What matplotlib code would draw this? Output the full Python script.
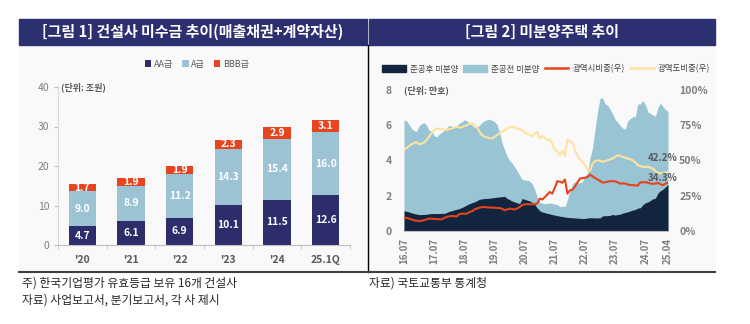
import numpy as np
import matplotlib.pyplot as plt
from matplotlib.patches import Rectangle, Patch
from matplotlib.lines import Line2D

plt.rcParams['font.family'] = ['Noto Sans CJK KR', 'DejaVu Sans']

# ---- [그림 1] 건설사 미수금 (단위: 조원)
periods = ["'20", "'21", "'22", "'23", "'24", '25.1Q']
aa_grade = [4.7, 6.1, 6.9, 10.1, 11.5, 12.6]
a_grade = [9.0, 8.9, 11.2, 14.3, 15.4, 16.0]
bbb_grade = [1.7, 1.9, 1.9, 2.3, 2.9, 3.1]

# ---- [그림 2] 미분양주택 (단위: 만호 / %), 월별 16.07 ~ 25.04
month_labels = ['16.07', '17.07', '18.07', '19.07', '20.07',
                '21.07', '22.07', '23.07', '24.07', '25.04']
month_label_pos = [0, 12, 24, 36, 48, 60, 72, 84, 96, 105]

# 전체 미분양 (준공전 + 준공후)
unsold_total = [
    6.29, 6.25, 6.05, 5.80, 5.70, 5.65, 5.95, 6.10, 6.15, 6.00, 5.70, 5.68,
    5.40, 5.35, 5.50, 5.60, 5.70, 5.85, 6.00, 5.95, 5.90, 6.00, 6.10, 6.20,
    6.30, 6.25, 6.14, 6.00, 5.88, 5.90, 6.00, 6.15, 6.26, 6.30, 6.33, 6.28,
    6.20, 6.05, 5.60, 5.00, 4.60, 4.25, 4.00, 3.85, 3.64, 3.40, 3.17, 2.92,
    2.89, 2.88, 2.83, 2.67, 2.36, 1.90, 1.65, 1.58, 1.55, 1.57, 1.59, 1.56,
    1.53, 1.50, 1.38, 1.41, 1.38, 1.77, 2.30, 2.65, 2.80, 2.72, 2.74, 2.79,
    3.13, 3.27, 4.16, 4.72, 5.80, 6.81, 7.54, 7.54, 7.21, 7.14, 6.89, 6.64,
    6.31, 6.18, 5.98, 5.83, 5.79, 6.25, 6.38, 6.49, 6.50, 7.20, 7.21, 7.40,
    7.18, 6.76, 6.68, 6.58, 6.51, 7.02, 7.26, 7.06, 6.89, 6.78]
# 준공후 미분양
unsold_completed = [
    1.14, 1.12, 1.08, 1.03, 0.99, 0.96, 0.93, 0.93, 0.94, 0.95, 0.97, 0.99,
    0.99, 0.99, 0.99, 1.00, 1.00, 1.05, 1.12, 1.15, 1.20, 1.23, 1.27, 1.33,
    1.40, 1.48, 1.55, 1.60, 1.65, 1.72, 1.80, 1.82, 1.84, 1.85, 1.86, 1.88,
    1.90, 1.92, 1.93, 1.95, 1.97, 1.85, 1.78, 1.70, 1.65, 1.60, 1.55, 1.84,
    1.80, 1.75, 1.70, 1.62, 1.50, 1.30, 1.15, 1.08, 1.04, 1.00, 0.97, 0.93,
    0.90, 0.87, 0.84, 0.82, 0.79, 0.77, 0.76, 0.75, 0.74, 0.73, 0.72, 0.71,
    0.71, 0.74, 0.75, 0.75, 0.74, 0.74, 0.75, 0.86, 0.87, 0.87, 0.89, 0.94,
    0.90, 0.94, 0.95, 1.02, 1.05, 1.09, 1.14, 1.19, 1.22, 1.30, 1.32, 1.49,
    1.60, 1.65, 1.73, 1.83, 1.86, 2.15, 2.29, 2.37, 2.51, 2.64]
# 광역시 비중 (%)
metro_share = [
    9.5, 9.2, 8.8, 8.2, 7.6, 7.3, 7.1, 7.3, 7.6, 8.2, 8.8, 8.7,
    8.6, 8.5, 8.3, 8.3, 9.2, 10.0, 10.4, 10.7, 10.5, 10.4, 12.0, 12.3,
    12.2, 12.3, 13.4, 14.0, 15.2, 15.9, 16.6, 17.0, 17.0, 16.8, 16.7, 16.6,
    16.5, 16.4, 16.2, 15.9, 14.7, 15.3, 15.9, 15.6, 15.2, 16.0, 17.0, 18.4,
    18.9, 19.0, 19.0, 19.0, 19.2, 19.4, 23.0, 22.3, 24.0, 25.8, 27.7, 26.5,
    30.8, 35.3, 35.0, 34.2, 36.5, 26.5, 28.9, 29.2, 31.5, 34.5, 37.2, 37.5,
    37.8, 38.2, 40.0, 38.8, 37.6, 36.5, 35.5, 34.3, 34.5, 35.0, 35.3, 35.3,
    35.3, 34.5, 33.6, 33.8, 33.6, 33.0, 32.6, 32.5, 32.4, 32.2, 34.6, 34.5,
    34.6, 34.3, 33.6, 33.5, 33.6, 34.1, 33.2, 32.5, 33.6, 34.3]
# 광역도 비중 (%)
province_share = [
    57.3, 59.0, 60.2, 61.5, 62.5, 63.0, 61.5, 62.0, 62.8, 64.5, 67.0, 69.5,
    71.5, 72.7, 72.5, 72.2, 71.8, 71.6, 72.2, 72.7, 73.3, 73.9, 73.3, 73.5,
    74.5, 75.1, 76.0, 76.3, 75.0, 73.5, 70.5, 68.0, 67.0, 66.4, 65.8, 65.6,
    66.8, 68.0, 69.2, 70.4, 71.6, 72.7, 73.3, 73.9, 73.3, 72.7, 72.2, 71.6,
    70.0, 68.7, 68.0, 67.3, 69.0, 70.4, 65.6, 67.3, 66.0, 64.5, 64.9, 62.0,
    58.0, 56.2, 53.8, 56.9, 53.1, 64.9, 63.5, 62.6, 57.3, 53.5, 50.5, 49.1,
    46.7, 43.5, 42.7, 47.9, 49.5, 50.2, 49.8, 49.1, 49.6, 50.2, 50.8, 51.4,
    52.6, 53.8, 53.2, 52.6, 52.0, 51.4, 50.8, 50.2, 48.5, 46.7, 46.0, 45.5,
    45.5, 45.5, 44.9, 44.3, 42.5, 41.2, 41.0, 40.8, 41.5, 42.2]

NAVY = '#2d3070'
C_AA, C_A, C_BBB = '#2e2d6c', '#9cc3d3', '#e8441f'
C_DARK, C_LIGHT = '#13243e', '#99c4d3'
C_RED, C_YEL = '#e4431c', '#fde3a2'
GRAY = '#7f7f7f'

W, H = 750, 324
fig = plt.figure(figsize=(W / 100, H / 100), dpi=100)

def fx(px):
    return px / W

def fy(py):
    return 1 - py / H

# 패널 배경과 제목 띠
fig.add_artist(Rectangle((fx(19), fy(272)), fx(715) - fx(19), fy(45) - fy(272),
                         transform=fig.transFigure, color='#f9f9f9', zorder=-2))
for x0, x1, title in [(19, 367, '[그림 1] 건설사 미수금 추이(매출채권+계약자산)'),
                      (369, 715, '[그림 2] 미분양주택 추이')]:
    fig.add_artist(Rectangle((fx(x0), fy(45)), fx(x1) - fx(x0), fy(19) - fy(45),
                             transform=fig.transFigure, color=NAVY, zorder=-1))
    fig.text(fx((x0 + x1) / 2), fy(32), title, color='white', fontsize=10.8,
             fontweight='bold', ha='center', va='center')
fig.add_artist(Line2D([fx(368), fx(368)], [fy(45), fy(272)], color='black', lw=1))
fig.add_artist(Line2D([fx(19), fx(715)], [fy(272), fy(272)], color='#404040', lw=1.5))

# ---- 왼쪽: 누적 막대
ax1 = fig.add_axes([fx(58), fy(245), (350 - 58) / W, (245 - 87) / H])
ax1.set_facecolor('none')
x = np.arange(len(periods))
bw = 0.56
b1 = ax1.bar(x, aa_grade, bw, color=C_AA, label='AA급')
b2 = ax1.bar(x, a_grade, bw, bottom=aa_grade, color=C_A, label='A급')
b3 = ax1.bar(x, bbb_grade, bw, bottom=np.add(aa_grade, a_grade), color=C_BBB, label='BBB급')
for cont, vals in [(b1, aa_grade), (b2, a_grade), (b3, bbb_grade)]:
    ax1.bar_label(cont, labels=[f'{v:.1f}' for v in vals], label_type='center',
                  color='white', fontsize=7.5, fontweight='bold')

ax1.set_xlim(-0.5, len(periods) - 0.5)
ax1.set_ylim(0, 40)
ax1.set_yticks([0, 10, 20, 30, 40])
ax1.set_xticks(x)
ax1.set_xticklabels(periods, fontweight='bold', color='#595959', fontsize=7.5)
ax1.set_xticks(np.arange(-0.5, len(periods)), minor=True)
ax1.tick_params(axis='x', which='major', length=0, pad=7)
ax1.tick_params(axis='x', which='minor', length=3, color='#bfbfbf')
ax1.tick_params(axis='y', length=3, color='#bfbfbf', labelcolor=GRAY, labelsize=7.5, pad=3)
for s in ['top', 'right']:
    ax1.spines[s].set_visible(False)
ax1.spines['left'].set_color('#d9d9d9')
ax1.spines['bottom'].set_color('#bfbfbf')
ax1.text(0.01, 1.0, '(단위: 조원)', transform=ax1.transAxes, fontsize=6.5,
         fontweight='bold', color='#595959', va='center')
ax1.legend(loc='center', bbox_to_anchor=(fx(197), fy(64)), bbox_transform=fig.transFigure,
           ncol=3, frameon=False, fontsize=6.5, handlelength=0.7, handleheight=0.7,
           handletextpad=0.3, columnspacing=1.0, labelcolor='#595959')

# ---- 오른쪽: 미분양 면적 + 비중 선
ax2 = fig.add_axes([fx(404), fy(231), (668 - 404) / W, (231 - 90) / H])
ax2.set_facecolor('none')
m = np.arange(len(unsold_total))
ax2.fill_between(m, 0, unsold_total, color=C_LIGHT, lw=0)
ax2.fill_between(m, 0, unsold_completed, color=C_DARK, lw=0)
ax2.set_xlim(0, len(m) - 1)
ax2.set_ylim(0, 8)
ax2.set_yticks([0, 2, 4, 6, 8])
ax2.set_xticks(month_label_pos)
ax2.set_xticklabels(month_labels, rotation=90)
ax2.tick_params(axis='x', length=0, pad=5, labelsize=7)
ax2.tick_params(axis='y', length=0, pad=9, labelsize=7.5)
for lab in ax2.get_xticklabels() + ax2.get_yticklabels():
    lab.set_fontweight('bold')
    lab.set_color(GRAY)
for s in ['top', 'right', 'left']:
    ax2.spines[s].set_visible(False)
ax2.spines['bottom'].set_color('#bfbfbf')
ax2.text(0.0, 1.0, '(단위: 만호)', transform=ax2.transAxes, fontsize=6.5,
         fontweight='bold', color='#595959', va='center', ha='left')

ax3 = ax2.twinx()
ax3.plot(m, metro_share, color=C_RED, lw=1.5)
ax3.plot(m, province_share, color=C_YEL, lw=1.5)
ax3.set_ylim(0, 100)
ax3.set_yticks([0, 25, 50, 75, 100])
ax3.set_yticklabels(['0%', '25%', '50%', '75%', '100%'])
ax3.tick_params(axis='y', length=0, pad=8, labelsize=7.5)
for lab in ax3.get_yticklabels():
    lab.set_fontweight('bold')
    lab.set_color(GRAY)
for s in ax3.spines.values():
    s.set_visible(False)
ax3.annotate(f'{province_share[-1]:.1f}%', (m[-1], province_share[-1]),
             xytext=(7, 10), textcoords='offset points', ha='right', va='center',
             fontsize=7, fontweight='bold', color='#595959')
ax3.annotate(f'{metro_share[-1]:.1f}%', (m[-1], metro_share[-1]),
             xytext=(7, 3), textcoords='offset points', ha='right', va='center',
             fontsize=7, fontweight='bold', color='#595959')

handles = [Patch(color=C_DARK), Patch(color=C_LIGHT),
           Line2D([], [], color=C_RED, lw=1.8), Line2D([], [], color=C_YEL, lw=1.8)]
fig.legend(handles, ['준공후 미분양', '준공전 미분양', '광역시비중(우)', '광역도비중(우)'],
           loc='center', bbox_to_anchor=(fx(546), fy(69)), ncol=4, frameon=False,
           fontsize=6.1, handlelength=2.8, handleheight=0.8, handletextpad=0.5,
           columnspacing=0.6, labelcolor='#404040')

# 주석
fig.text(fx(22), fy(283), '주) 한국기업평가 유효등급 보유 16개 건설사', fontsize=8.5,
         color='#262626', va='center')
fig.text(fx(22), fy(300), '자료) 사업보고서, 분기보고서, 각 사 제시', fontsize=8.5,
         color='#262626', va='center')
fig.text(fx(369), fy(283), '자료) 국토교통부 통계청', fontsize=8.5,
         color='#262626', va='center')

fig.savefig('out.png', dpi=100)
